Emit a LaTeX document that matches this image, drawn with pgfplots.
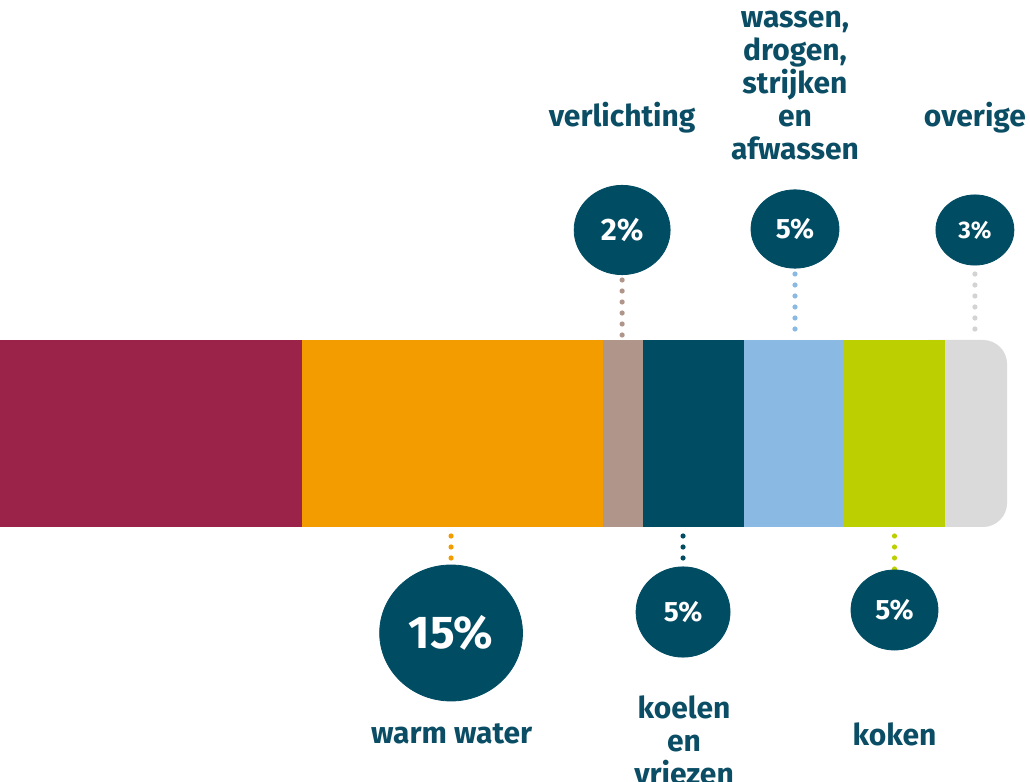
\documentclass[border=0pt]{standalone}
\usepackage{pgfplots}
\pgfplotsset{compat=1.18}
\usepackage{fontspec}
\setmainfont{Fira Sans}
\definecolor{cCrim}{HTML}{9B2249}
\definecolor{cOra}{HTML}{F39C00}
\definecolor{cTaupe}{HTML}{B0958A}
\definecolor{cTeal}{HTML}{004C63}
\definecolor{cBlue}{HTML}{8AB9E3}
\definecolor{cGreen}{HTML}{BCCF00}
\definecolor{cGrey}{HTML}{DADADA}
\definecolor{cDotGrey}{HTML}{D3D3D3}
\definecolor{cText}{HTML}{0A4D64}
\tikzset{
  dotline/.style={line width=2.6pt, line cap=round, dash pattern=on 0pt off 5.5pt},
  lab/.style={font=\bfseries\fontsize{15}{16.5}\selectfont, text=cText, align=center},
}
\pgfplotsset{
  bubble/.style={only marks, mark=*, color=cTeal, fill=cTeal, nodes near coords align=center},
}
\begin{document}
\begin{tikzpicture}
\useasboundingbox (0,0) rectangle (515pt,391pt);
\begin{axis}[
  at={(0,0)}, anchor=south west,
  width=515pt, height=391pt, scale only axis,
  xmin=0, xmax=51.24, ymin=0, ymax=782,
  axis lines=none, clip=false,
]
% stacked bar segments (percent)
\addplot[fill=cGrey, draw=none, rounded corners=12pt] coordinates {(45,255) (50.1,255) (50.1,442) (45,442)} -- cycle;
\addplot[fill=cCrim, draw=none] coordinates {(0,255) (15,255) (15,442) (0,442)} -- cycle;
\addplot[fill=cOra, draw=none] coordinates {(15,255) (30,255) (30,442) (15,442)} -- cycle;
\addplot[fill=cTaupe, draw=none] coordinates {(30,255) (32,255) (32,442) (30,442)} -- cycle;
\addplot[fill=cTeal, draw=none] coordinates {(32,255) (37,255) (37,442) (32,442)} -- cycle;
\addplot[fill=cBlue, draw=none] coordinates {(37,255) (42,255) (42,442) (37,442)} -- cycle;
\addplot[fill=cGreen, draw=none] coordinates {(42,255) (47,255) (47,442) (42,442)} -- cycle;
% dotted connectors
\addplot[dotline, cTaupe] coordinates {(30.95,502) (30.95,446)};
\addplot[dotline, cBlue] coordinates {(39.55,508) (39.55,446)};
\addplot[dotline, cDotGrey] coordinates {(48.5,508) (48.5,446)};
\addplot[dotline, cOra] coordinates {(22.44,246) (22.44,223)};
\addplot[dotline, cTeal] coordinates {(33.98,246) (33.98,223)};
\addplot[dotline, cGreen] coordinates {(44.5,246) (44.5,212)};
% bubbles
\addplot[bubble, mark size=34pt, mark options={fill=cTeal, draw=none, xscale=1.05},
  nodes near coords={15\%},
  every node near coord/.append style={font=\bfseries\fontsize{23}{23}\selectfont, text=white}]
  coordinates {(22.44,149)};
\addplot[bubble, mark size=24pt, mark options={fill=cTeal, draw=none, yscale=0.93},
  nodes near coords={2\%},
  every node near coord/.append style={font=\bfseries\fontsize{15.5}{15.5}\selectfont, text=white}]
  coordinates {(30.95,552)};
\addplot[bubble, mark size=22pt, mark options={fill=cTeal, draw=none, yscale=0.89},
  nodes near coords={5\%},
  every node near coord/.append style={font=\bfseries\fontsize{14}{14}\selectfont, text=white}]
  coordinates {(39.55,553)};
\addplot[bubble, mark size=19.5pt, mark options={fill=cTeal, draw=none, yscale=0.9},
  nodes near coords={3\%},
  every node near coord/.append style={font=\bfseries\fontsize{12}{12}\selectfont, text=white}]
  coordinates {(48.5,552)};
\addplot[bubble, mark size=23.5pt, mark options={fill=cTeal, draw=none, yscale=0.96},
  nodes near coords={5\%},
  every node near coord/.append style={font=\bfseries\fontsize{14}{14}\selectfont, text=white}]
  coordinates {(33.98,170)};
\addplot[bubble, mark size=21.75pt, mark options={fill=cTeal, draw=none, yscale=0.92},
  nodes near coords={5\%},
  every node near coord/.append style={font=\bfseries\fontsize{14}{14}\selectfont, text=white}]
  coordinates {(44.5,172)};
% category labels
\node[lab] at (axis cs:30.95,664) {verlichting};
\node[lab] at (axis cs:39.55,696.5) {wassen,\\drogen,\\strijken\\en\\afwassen};
\node[lab] at (axis cs:48.5,664) {overige};
\node[lab] at (axis cs:22.47,48) {warm water};
\node[lab] at (axis cs:34.03,42) {koelen\\en\\vriezen};
\node[lab] at (axis cs:44.5,48) {koken};
\end{axis}
\end{tikzpicture}
\end{document}
